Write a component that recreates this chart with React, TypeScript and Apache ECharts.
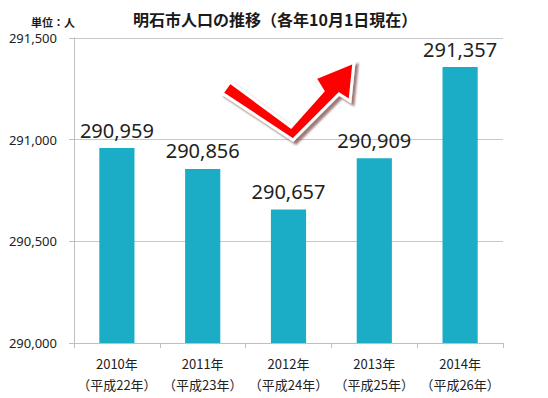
import React, { useEffect, useRef } from "react";
import * as echarts from "echarts";

const years = ["2010年", "2011年", "2012年", "2013年", "2014年"];
const eras = ["（平成22年）", "（平成23年）", "（平成24年）", "（平成25年）", "（平成26年）"];
const population = [290959, 290856, 290657, 290909, 291357];
const yTicks = { min: 290000, max: 291500, interval: 500 };

const fmt = (v: number) => v.toLocaleString("en-US");

export default function App() {
  const ref = useRef<HTMLDivElement>(null);
  useEffect(() => {
    document.body.style.margin = "0";
    if (!ref.current) return;
    const chart = echarts.init(ref.current, null, { renderer: "svg" });
    const font = "'Noto Sans', 'Noto Sans CJK JP', sans-serif";
    const cjk = "'Noto Sans CJK JP', 'Noto Sans', sans-serif";
    chart.setOption({
      animation: false,
      backgroundColor: "#ffffff",
      title: [
        {
          text: "明石市人口の推移（各年10月1日現在）",
          left: 128,
          top: 6,
          textStyle: { fontFamily: cjk, fontSize: 16, fontWeight: "bold", color: "#1a1a1a" },
        },
        {
          text: "単位：人",
          left: 26,
          top: 11,
          textStyle: { fontFamily: cjk, fontSize: 11, fontWeight: "bold", color: "#1a1a1a" },
        },
      ],
      grid: { left: 74, right: 45, top: 38, bottom: 55, containLabel: false },
      xAxis: {
        type: "category",
        data: years.map((y, i) => y + "\n" + eras[i]),
        axisLine: { lineStyle: { color: "#bfbfbf" } },
        axisTick: { show: true, alignWithLabel: false, length: 5, lineStyle: { color: "#bfbfbf" } },
        axisLabel: {
          interval: 0,
          margin: 10,
          fontFamily: cjk,
          fontSize: 13,
          lineHeight: 21,
          color: "#222",
        },
      },
      yAxis: {
        type: "value",
        min: yTicks.min,
        max: yTicks.max,
        interval: yTicks.interval,
        axisLine: { show: true, lineStyle: { color: "#bfbfbf" } },
        axisTick: { show: true, length: 5, lineStyle: { color: "#bfbfbf" } },
        splitLine: { show: true, lineStyle: { color: "#c8c8c8" } },
        axisLabel: {
          margin: 17,
          fontFamily: font,
          fontSize: 13,
          color: "#222",
          formatter: (v: number) => fmt(v),
        },
      },
      series: [
        {
          type: "bar",
          data: population,
          barWidth: "41%",
          itemStyle: { color: "#1cadc6" },
          label: {
            show: true,
            position: "top",
            distance: 8,
            fontFamily: font,
            fontSize: 20,
            color: "#222",
            formatter: (p: any) => fmt(p.value),
          },
        },
      ],
      graphic: [
        {
          type: "polygon",
          z: 100,
          shape: {
            points: [
              [230, 82],
              [291, 127],
              [323, 91],
              [315, 78],
              [354, 62],
              [350, 101],
              [339, 94],
              [293, 140],
              [222, 93],
            ],
          },
          style: {
            fill: "#ff0000",
            stroke: "#ffffff",
            lineWidth: 3,
            lineJoin: "miter",
            shadowColor: "rgba(110,50,50,0.65)",
            shadowBlur: 2,
            shadowOffsetX: 3,
            shadowOffsetY: 3,
          },
        },
      ],
    });
    return () => chart.dispose();
  }, []);
  return <div ref={ref} style={{ width: 548, height: 398 }} />;
}
